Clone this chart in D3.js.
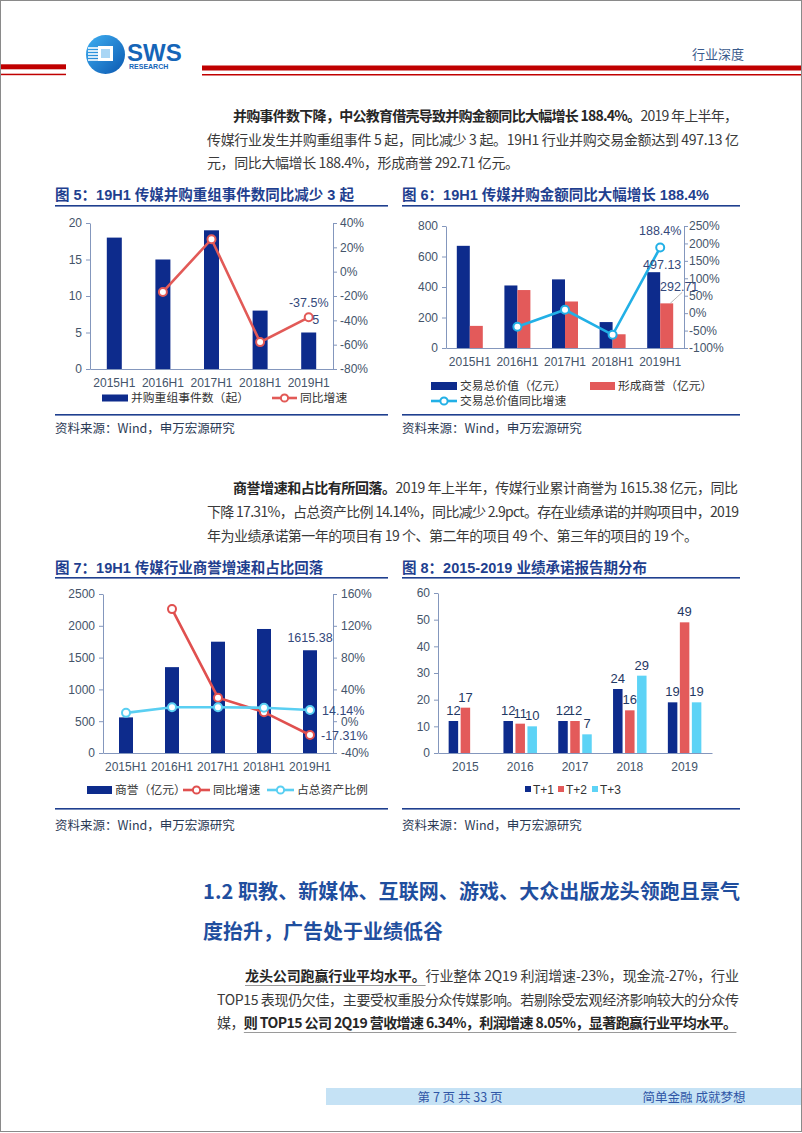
<!DOCTYPE html>
<html><head><meta charset="utf-8">
<script src="https://cdn.jsdelivr.net/npm/d3@7"></script>
<style>body{margin:0;background:#fff}svg{display:block}</style>
</head><body>
<svg id="page" width="802" height="1133"></svg>
<script>
// ---------- data ----------
const halfYears = ["2015H1","2016H1","2017H1","2018H1","2019H1"];
const mnaEvents = [18, 15, 19, 8, 5];
const mnaEventsYoY = [null, -0.167, 0.267, -0.579, -0.375];
const dealValue = [670, 410, 450, 170, 497.13];
const dealGoodwill = [145, 380, 305, 90, 292.71];
const dealValueYoY = [null, -0.388, 0.098, -0.622, 1.884];
const goodwill = [560, 1350, 1750, 1950, 1615.38];
const goodwillYoY = [null, 1.41, 0.296, 0.114, -0.1731];
const goodwillRatio = [0.105, 0.175, 0.176, 0.170, 0.1414];
const years = ["2015","2016","2017","2018","2019"];
const tPlus1 = [12, 12, 12, 24, 19];
const tPlus2 = [17, 11, 12, 16, 49];
const tPlus3 = [null, 10, 7, 29, 19];
const c5LeftTicks = [0,5,10,15,20];
const c5RightTicks = [-0.8,-0.6,-0.4,-0.2,0,0.2,0.4];
const c6LeftTicks = [0,200,400,600,800];
const c6RightTicks = [-1,-0.5,0,0.5,1,1.5,2,2.5];
const c7LeftTicks = [0,500,1000,1500,2000,2500];
const c7RightTicks = [-0.4,0,0.4,0.8,1.2,1.6];
const c8Ticks = [0,10,20,30,40,50,60];

// ---------- styles ----------
const svg = d3.select("#page");
const FL = "'Liberation Sans', Arial, 'Noto Sans CJK SC', sans-serif";
const FC = "'Noto Sans CJK SC', 'Liberation Sans', sans-serif";
const NAVY = "#0D2B8C", RED = "#E35A5A", CYAN6 = "#22B0E6", CYAN7 = "#5ACFF2", CYAN8 = "#5DD3F6";
const AXIS = "#8497BD", TICK = "#44546A", TITLE = "#1F3F8F", LBL = "#34487A";
const pct = v => Math.round(v*100) + "%";

// page border
svg.append("rect").attr("x",0.5).attr("y",0.5).attr("width",801).attr("height",1131)
  .attr("fill","#fff").attr("stroke","#8a8a8a");

// ---------- header ----------
const grad = svg.append("defs").append("linearGradient").attr("id","lg").attr("x1","0").attr("y1","0").attr("x2","1").attr("y2","1");
grad.append("stop").attr("offset","0").attr("stop-color","#3FB0F2");
grad.append("stop").attr("offset","1").attr("stop-color","#0B57B0");
svg.append("circle").attr("cx",105.5).attr("cy",54.5).attr("r",19.5).attr("fill","url(#lg)");
[48,51,54,57,60].forEach(yy=>svg.append("line").attr("x1",88).attr("x2",99).attr("y1",yy).attr("y2",yy).attr("stroke","#fff").attr("stroke-width",1.6));
svg.append("rect").attr("x",98).attr("y",46).attr("width",15).attr("height",15).attr("fill","#fff");
svg.append("rect").attr("x",101).attr("y",49).attr("width",9).attr("height",9).attr("fill","#A9D6F5");
svg.append("text").attr("x",127).attr("y",61).text("SWS").attr("fill","#1565B8")
  .style("font-family",FL).style("font-weight",700).style("font-size","24px");
svg.append("text").attr("x",129).attr("y",69).text("RESEARCH").attr("fill","#1565B8")
  .style("font-family",FL).style("font-weight",700).style("font-size","7px");
svg.append("rect").attr("x",1).attr("y",64.3).attr("width",65).attr("height",5).attr("fill","#C00000");
svg.append("rect").attr("x",1).attr("y",73.7).attr("width",65).attr("height",1.5).attr("fill","#C00000");
svg.append("rect").attr("x",202).attr("y",65.5).attr("width",599).attr("height",5).attr("fill","#C00000");
svg.append("rect").attr("x",202).attr("y",74).attr("width",599).attr("height",1.5).attr("fill","#C00000");
svg.append("text").attr("x",718).attr("y",59).attr("text-anchor","middle").text("行业深度")
  .attr("fill","#3A5A8C").style("font-family",FC).style("font-size","13px");

// ---------- paragraphs ----------
function para(x, y, x2, parts, size) {
  size = size || 14;
  const t = svg.append("text").attr("x",x).attr("y",y)
    .style("font-family",FC).style("font-size",size+"px");
  let n = 0; const ranges = [];
  parts.forEach(p=>{
    t.append("tspan").text(p.t).attr("fill", p.b ? "#262626" : "#3A3A3A").style("font-weight", p.b ? 700 : 400);
    if (p.u) ranges.push([n, n + p.t.length - 1]);
    n += p.t.length;
  });
  if (x2 != null) {
    const w = t.node().getComputedTextLength();
    t.style("letter-spacing", ((x2 - x - w) / (n - 1)) + "px");
  }
  ranges.forEach(([a,b])=>{
    const ea = t.node().getExtentOfChar(a), eb = t.node().getExtentOfChar(b);
    svg.append("line").attr("x1",ea.x).attr("x2",eb.x+eb.width).attr("y1",y+4.5).attr("y2",y+4.5)
      .attr("stroke","#9a9a9a").attr("stroke-width",1.2);
  });
}
para(233,121,738,[{t:"并购事件数下降，中公教育借壳导致并购金额同比大幅增长 188.4%。",b:1},{t:"2019 年上半年，"}]);
para(207,144.5,739,[{t:"传媒行业发生并购重组事件 5 起，同比减少 3 起。19H1 行业并购交易金额达到 497.13 亿"}]);
para(207,168,519,[{t:"元，同比大幅增长 188.4%，形成商誉 292.71 亿元。"}]);

para(233,493,738,[{t:"商誉增速和占比有所回落。",b:1},{t:"2019 年上半年，传媒行业累计商誉为 1615.38 亿元，同比"}]);
para(207,517,739,[{t:"下降 17.31%，占总资产比例 14.14%，同比减少 2.9pct。存在业绩承诺的并购项目中，2019"}]);
para(207,541,698,[{t:"年为业绩承诺第一年的项目有 19 个、第二年的项目 49 个、第三年的项目的 19 个。"}]);

svg.append("text").attr("x",203).attr("y",899).text("1.2  职教、新媒体、互联网、游戏、大众出版龙头领跑且景气")
  .attr("fill","#1F4E9E").style("font-family",FC).style("font-weight",700).style("font-size","20px")
  .attr("textLength",537).attr("lengthAdjust","spacing");
svg.append("text").attr("x",203).attr("y",939).text("度抬升，广告处于业绩低谷")
  .attr("fill","#1F4E9E").style("font-family",FC).style("font-weight",700).style("font-size","20px");

para(245,981,739,[{t:"龙头公司跑赢行业平均水平。",b:1,u:1},{t:"行业整体 2Q19 利润增速-23%，现金流-27%，行业"}]);
para(217,1005,739,[{t:"TOP15 表现仍欠佳，主要受权重股分众传媒影响。若剔除受宏观经济影响较大的分众传"}]);
para(217,1028,737,[{t:"媒，"},{t:"则 TOP15 公司 2Q19 营收增速 6.34%，利润增速 8.05%，显著跑赢行业平均水平。",b:1,u:1}]);

// footer
svg.append("rect").attr("x",326).attr("y",1088).attr("width",475).attr("height",17).attr("fill","#C5E2F5");
svg.append("text").attr("x",460).attr("y",1101.5).attr("text-anchor","middle").text("第 7 页 共 33 页")
  .attr("fill","#2F56A6").style("font-family",FC).style("font-size","12.5px");
svg.append("text").attr("x",694).attr("y",1101.5).attr("text-anchor","middle").text("简单金融 成就梦想")
  .attr("fill","#2F56A6").style("font-family",FC).style("font-size","12.5px");

// ---------- chart helpers ----------
function frame(x1, x2, titleY, lineY, bottomY, srcY, title) {
  svg.append("text").attr("x",x1).attr("y",titleY).text(title).attr("fill",TITLE)
    .style("font-family",FL).style("font-weight",700).style("font-size","14.5px");
  svg.append("rect").attr("x",x1).attr("y",lineY).attr("width",x2-x1).attr("height",1.6).attr("fill",TITLE);
  svg.append("rect").attr("x",x1).attr("y",bottomY).attr("width",x2-x1).attr("height",1.6).attr("fill",TITLE);
  svg.append("text").attr("x",x1).attr("y",srcY).text("资料来源：Wind，申万宏源研究").attr("fill","#2B3A55")
    .style("font-family",FC).style("font-size","12.5px");
}
function styleAxis(g) {
  g.attr("font-family",FL).attr("font-size",12);
  g.select(".domain").attr("stroke",AXIS);
  g.selectAll(".tick line").attr("stroke",AXIS);
  g.selectAll(".tick text").attr("fill",TICK);
}
function axes(x, y, y2, lt, rt, leftFmt, pad2) {
  const [x0,x1] = x.range();
  styleAxis(svg.append("g").attr("transform",`translate(${x0},0)`)
    .call(d3.axisLeft(y).tickValues(lt).tickFormat(leftFmt||(d=>d)).tickSize(4).tickSizeOuter(0).tickPadding(4)));
  if (y2) styleAxis(svg.append("g").attr("transform",`translate(${x1},0)`)
    .call(d3.axisRight(y2).tickValues(rt).tickFormat(pct).tickSize(4).tickSizeOuter(0).tickPadding(pad2==null?3:pad2)));
  styleAxis(svg.append("g").attr("transform",`translate(0,${y.range()[0]})`)
    .call(d3.axisBottom(x).tickSize(0).tickPadding(9)));
}
function lineSeries(x, y, vals, cats, color) {
  const pts = vals.map((v,i)=>({v,c:cats[i]})).filter(d=>d.v!=null);
  svg.append("path").datum(pts).attr("fill","none").attr("stroke",color).attr("stroke-width",2.6)
    .attr("d", d3.line().x(d=>x(d.c)+x.bandwidth()/2).y(d=>y(d.v)));
  svg.selectAll(null).data(pts).enter().append("circle")
    .attr("cx",d=>x(d.c)+x.bandwidth()/2).attr("cy",d=>y(d.v)).attr("r",4)
    .attr("fill","#fff").attr("stroke",color).attr("stroke-width",2);
}
function bars(x, y, vals, cats, color, w, off) {
  svg.selectAll(null).data(vals.map((v,i)=>({v,c:cats[i]})).filter(d=>d.v!=null)).enter().append("rect")
    .attr("x",d=>x(d.c)+x.bandwidth()/2+off-w/2).attr("width",w)
    .attr("y",d=>y(d.v)).attr("height",d=>y(0)-y(d.v)).attr("fill",color);
}
function label(x, y, t, anchor, color, size) {
  svg.append("text").attr("x",x).attr("y",y).attr("text-anchor",anchor||"middle").text(t)
    .attr("fill",color||LBL).style("font-family",FL).style("font-size",(size||12.5)+"px");
}
function legRect(x, y, w, h, color, txt) {
  svg.append("rect").attr("x",x).attr("y",y-h/2).attr("width",w).attr("height",h).attr("fill",color);
  svg.append("text").attr("x",x+w+3).attr("y",y+4.3).text(txt).attr("fill","#333")
    .style("font-family",FC).style("font-size","11.8px");
}
function legLine(x, y, w, color, txt) {
  svg.append("line").attr("x1",x).attr("x2",x+w).attr("y1",y).attr("y2",y).attr("stroke",color).attr("stroke-width",2.6);
  svg.append("circle").attr("cx",x+w/2).attr("cy",y).attr("r",3.6).attr("fill","#fff").attr("stroke",color).attr("stroke-width",2);
  svg.append("text").attr("x",x+w+3).attr("y",y+4.3).text(txt).attr("fill","#333")
    .style("font-family",FC).style("font-size","11.8px");
}

// ---------- chart 5 ----------
{
  frame(55, 388, 200, 205, 414, 433, "图 5：19H1 传媒并购重组事件数同比减少 3 起");
  const x = d3.scaleBand().domain(halfYears).range([90,333]);
  const y = d3.scaleLinear().domain([0,20]).range([369,223]);
  const y2 = d3.scaleLinear().domain([-0.8,0.4]).range([369,223]);
  bars(x, y, mnaEvents, halfYears, NAVY, 15, 0);
  axes(x, y, y2, c5LeftTicks, c5RightTicks);
  lineSeries(x, y2, mnaEventsYoY, halfYears, "#E25A57");
  const cx = x("2019H1") + x.bandwidth()/2;
  label(cx, y2(-0.375)-10, "-37.5%");
  label(cx+7, y(5)-9, "5");
  legRect(102, 398, 26, 7, NAVY, "并购重组事件数（起）");
  legLine(272, 398, 25, "#E25A57", "同比增速");
}

// ---------- chart 6 ----------
{
  frame(402, 740, 200, 205, 414, 433, "图 6：19H1 传媒并购金额同比大幅增长 188.4%");
  const x = d3.scaleBand().domain(halfYears).range([446,684]);
  const y = d3.scaleLinear().domain([0,800]).range([348,226]);
  const y2 = d3.scaleLinear().domain([-1,2.5]).range([348,226]);
  bars(x, y, dealValue, halfYears, NAVY, 13, -6.5);
  bars(x, y, dealGoodwill, halfYears, RED, 13, 6.5);
  axes(x, y, y2, c6LeftTicks, c6RightTicks, null, 1);
  lineSeries(x, y2, dealValueYoY, halfYears, CYAN6);
  const cx = x("2019H1") + x.bandwidth()/2;
  label(cx, y2(1.884)-12, "188.4%");
  label(cx+2, y(497.13)-3, "497.13");
  label(cx+19, y(292.71)-12, "292.71");
  svg.append("line").attr("x1",cx+22).attr("y1",y(292.71)-11).attr("x2",cx+10).attr("y2",y(292.71))
    .attr("stroke","#A6A6A6").attr("stroke-width",0.8);
  legRect(431, 386, 26, 8, NAVY, "交易总价值（亿元）");
  legRect(590, 386, 25, 8, RED, "形成商誉（亿元）");
  legLine(431, 401, 26, CYAN6, "交易总价值同比增速");
}

// ---------- chart 7 ----------
{
  frame(55, 388, 573, 577, 808, 830, "图 7：19H1 传媒行业商誉增速和占比回落");
  const x = d3.scaleBand().domain(halfYears).range([103,333]);
  const y = d3.scaleLinear().domain([0,2500]).range([753,594]);
  const y2 = d3.scaleLinear().domain([-0.4,1.6]).range([753,594]);
  bars(x, y, goodwill, halfYears, NAVY, 14, 0);
  axes(x, y, y2, c7LeftTicks, c7RightTicks, null, 4);
  lineSeries(x, y2, goodwillYoY, halfYears, "#E0504F");
  lineSeries(x, y2, goodwillRatio, halfYears, CYAN7);
  const cx = x("2019H1") + x.bandwidth()/2;
  label(cx, y(1615.38)-8, "1615.38");
  label(cx+12, y2(0.1414)+5, "14.14%", "start");
  label(cx+11, y2(-0.1731)+5, "-17.31%", "start");
  legRect(87, 790, 25, 8, NAVY, "商誉（亿元）");
  legLine(183, 790, 27, "#E0504F", "同比增速");
  legLine(267, 790, 27, CYAN7, "占总资产比例");
}

// ---------- chart 8 ----------
{
  frame(402, 740, 573, 577, 808, 830, "图 8：2015-2019 业绩承诺报告期分布");
  const x = d3.scaleBand().domain(years).range([438,712]);
  const y = d3.scaleLinear().domain([0,60]).range([753,593]);
  const series = [[tPlus1, NAVY, -12], [tPlus2, RED, 0], [tPlus3, CYAN8, 12]];
  series.forEach(([vals,col,off])=>{
    bars(x, y, vals, years, col, 9.5, off);
    vals.forEach((v,i)=>{ if (v!=null) label(x(years[i])+x.bandwidth()/2+off, y(v)-6, String(v), "middle", "#1F3864", 13); });
  });
  axes(x, y, null, c8Ticks, null);
  [["T+1",NAVY,525],["T+2",RED,558],["T+3",CYAN8,592]].forEach(([t,c,xx])=>{
    svg.append("rect").attr("x",xx).attr("y",786).attr("width",6).attr("height",6).attr("fill",c);
    svg.append("text").attr("x",xx+8).attr("y",793.5).text(t).attr("fill","#333")
      .style("font-family",FL).style("font-size","12px");
  });
}
</script>
</body></html>
